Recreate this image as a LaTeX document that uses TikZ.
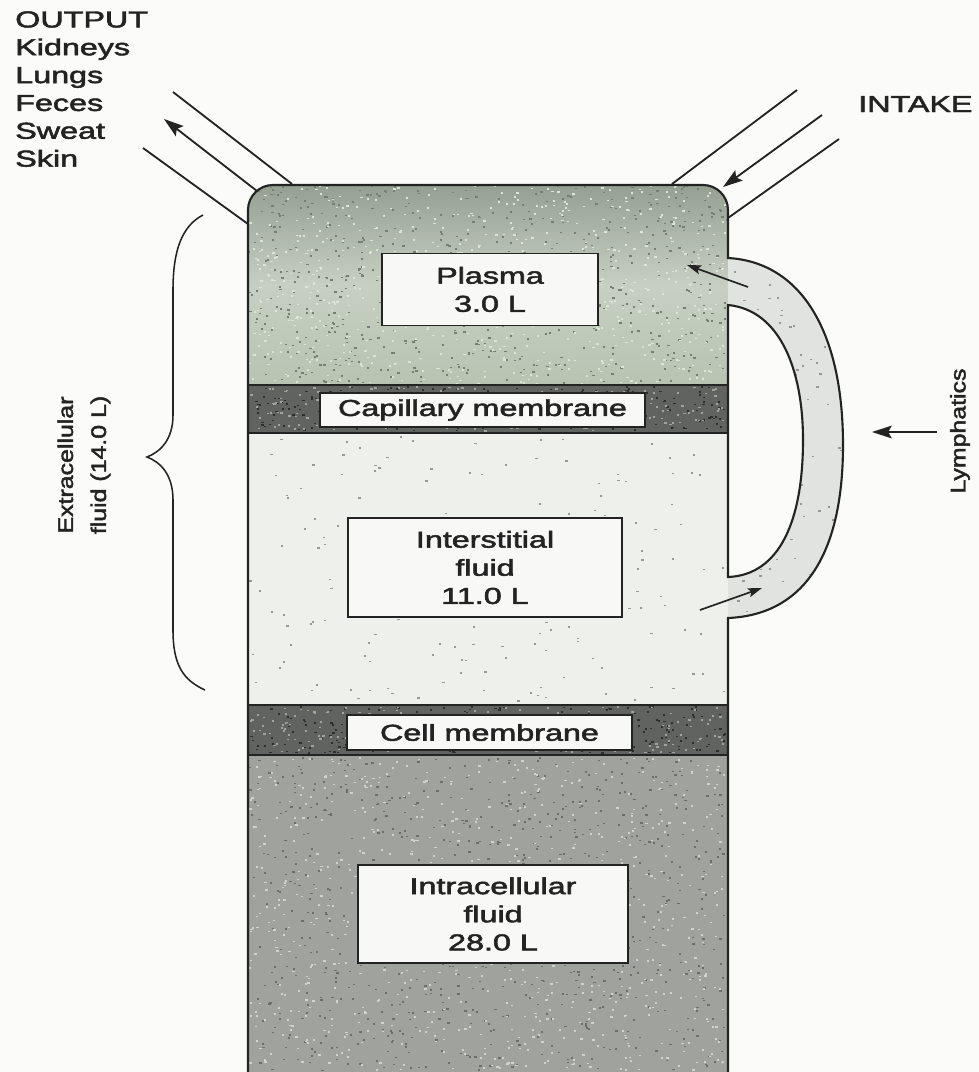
\documentclass[tikz,border=0pt]{standalone}
\usepackage{fontspec}
\setmainfont{Liberation Sans}[FakeBold=2]
\usepackage{graphicx}
\usetikzlibrary{arrows.meta}
\definecolor{bgc}{RGB}{251,251,249}
\definecolor{plasmac}{RGB}{184,195,178}
\definecolor{plasmatop}{RGB}{150,160,146}
\definecolor{plasmadk}{RGB}{118,128,114}
\definecolor{plasmalt}{RGB}{220,228,214}
\definecolor{memc}{RGB}{96,99,95}
\definecolor{memdk}{RGB}{45,47,45}
\definecolor{memlt}{RGB}{160,163,158}
\definecolor{interc}{RGB}{238,240,236}
\definecolor{interdk}{RGB}{150,152,150}
\definecolor{intrac}{RGB}{160,162,157}
\definecolor{intradk}{RGB}{108,110,106}
\definecolor{intralt}{RGB}{208,210,205}
\definecolor{ductc}{RGB}{224,227,223}
\definecolor{boxc}{RGB}{248,249,247}
\definecolor{inkc}{RGB}{35,35,35}
\newcommand{\hw}[1]{\scalebox{1.40}[1]{#1}}
\newcommand{\vw}[1]{\scalebox{1.18}[1]{#1}}
% speckle: xmin, xmax, ymin, ymax, count, colour
\newcommand{\speckle}[6]{%
  \foreach \k in {1,...,#5}{%
    \pgfmathsetmacro{\rx}{#1+rnd*(#2-#1)}%
    \pgfmathsetmacro{\ry}{#3+rnd*(#4-#3)}%
    \fill[#6] (\rx,\ry) rectangle ++(2.2,1.6);}}
\begin{document}
\begin{tikzpicture}[x=0.025cm,y=-0.025cm,
  edge/.style={draw=inkc,line width=1.5pt},
  lblbox/.style={draw=inkc,line width=1.1pt,fill=boxc,inner sep=0pt,align=center,
     text=inkc,font=\fontsize{16.4}{20}\selectfont},
  plaintext/.style={inner sep=0pt,text=inkc,font=\fontsize{16.4}{19.8}\selectfont},
  rottext/.style={inner sep=0pt,text=inkc,align=center,rotate=90,font=\fontsize{15}{23.5}\selectfont},
  flowline/.style={draw=inkc,line width=1.3pt},
  bigtip/.style={draw=inkc,line width=1.3pt,-{Stealth[length=14pt,width=9pt,inset=2.5pt]}},
  smalltip/.style={draw=inkc,line width=1.2pt,-{Stealth[length=10pt,width=6.5pt,inset=2pt]}}
]
\useasboundingbox (0,0) rectangle (979,1072);
\fill[bgc] (0,0) rectangle (979,1072);
\pgfmathsetseed{4242}

% ---- compartments ----
\shade[top color=plasmatop,bottom color=plasmac,middle color=plasmac!80!white]
  (248,385) -- (248,210) arc[start angle=180,end angle=270,radius=25]
  -- (703,185) arc[start angle=270,end angle=360,radius=25] -- (728,385) -- cycle;
\fill[memc] (248,385) rectangle (728,433);
\fill[interc] (248,433) rectangle (728,705);
\fill[memc] (248,705) rectangle (728,755);
\fill[intrac] (248,755) rectangle (728,1072);

% ---- textures ----
\begin{scope}
\clip (248,385) -- (248,210) arc[start angle=180,end angle=270,radius=25]
  -- (703,185) arc[start angle=270,end angle=360,radius=25] -- (728,385) -- cycle;
\speckle{248}{726}{185}{383}{650}{plasmadk}
\speckle{248}{726}{185}{383}{650}{plasmalt}
\end{scope}
\speckle{249}{724}{386}{430}{260}{memdk}
\speckle{249}{724}{386}{430}{200}{memlt}
\speckle{249}{724}{706}{752}{260}{memdk}
\speckle{249}{724}{706}{752}{200}{memlt}
\speckle{249}{724}{436}{702}{170}{interdk}
\speckle{249}{724}{757}{1070}{800}{intradk}
\speckle{249}{724}{757}{1070}{800}{intralt}
\draw[inkc,line width=1.3pt] (248,385) -- (728,385) (248,433) -- (728,433)
   (248,705) -- (728,705) (248,755) -- (728,755);

% ---- lymph duct ----
\fill[ductc] (728,258) .. controls (800,262) and (843,330) .. (843,445)
   .. controls (843,560) and (800,615) .. (728,618) -- cycle;
\begin{scope}
\clip (728,258) .. controls (800,262) and (843,330) .. (843,445)
   .. controls (843,560) and (800,615) .. (728,618) -- cycle;
\speckle{728}{843}{258}{618}{110}{interdk}
\end{scope}
\filldraw[fill=bgc,edge] (728,305) .. controls (780,310) and (803,370) .. (803,440)
   .. controls (803,520) and (780,575) .. (728,577) -- cycle;

% ---- container outline ----
\draw[edge] (248,1072) -- (248,210) arc[start angle=180,end angle=270,radius=25]
  -- (703,185) arc[start angle=270,end angle=360,radius=25] -- (728,258)
  .. controls (800,262) and (843,330) .. (843,445)
  .. controls (843,560) and (800,615) .. (728,618) -- (728,1072);

% ---- labels in boxes ----
\node[lblbox,minimum width=5.4cm,minimum height=1.8cm] (plasma) at (490,289.5)
  {\hw{Plasma}\\\hw{3.0 L}};
\node[lblbox,minimum width=8.125cm,minimum height=0.85cm] (capm) at (482.5,410)
  {\hw{Capillary membrane}};
\node[lblbox,minimum width=6.85cm,minimum height=2.475cm] (inter) at (485,567.5)
  {\hw{Interstitial}\\\hw{fluid}\\\hw{11.0 L}};
\node[lblbox,minimum width=7.125cm,minimum height=0.875cm] (cellm) at (489.5,732.5)
  {\hw{Cell membrane}};
\node[lblbox,minimum width=6.75cm,minimum height=2.45cm] (intra) at (493,914)
  {\hw{Intracellular}\\\hw{fluid}\\\hw{28.0 L}};

% ---- output ----
\node[plaintext,anchor=north west,align=left] (outtxt) at (15,11)
  {\hw{OUTPUT}\\\hw{Kidneys}\\\hw{Lungs}\\\hw{Feces}\\\hw{Sweat}\\\hw{Skin}};
\coordinate (o1a) at (173,92);  \coordinate (o1b) at (292,184);
\coordinate (o2a) at (257,191); \coordinate (o2b) at (164,119);
\coordinate (o3a) at (143,148); \coordinate (o3b) at (248,224);
\draw[flowline] (o1a) -- (o1b);
\draw[bigtip] (o2a) -- (o2b);
\draw[flowline] (o3a) -- (o3b);

% ---- intake ----
\node[plaintext,anchor=base west] (intake) at (858,112) {\hw{INTAKE}};
\coordinate (i1a) at (797,90);  \coordinate (i1b) at (672,184);
\coordinate (i2a) at (822,115); \coordinate (i2b) at (723,187);
\coordinate (i3a) at (839,139); \coordinate (i3b) at (728,218);
\draw[flowline] (i1a) -- (i1b);
\draw[bigtip] (i2a) -- (i2b);
\draw[flowline] (i3a) -- (i3b);

% ---- lymph arrows ----
\coordinate (l1a) at (748,287); \coordinate (l1b) at (687,265);
\coordinate (l2a) at (700,610); \coordinate (l2b) at (762,588);
\draw[smalltip] (l1a) -- (l1b);
\draw[smalltip] (l2a) -- (l2b);
\node[rottext] (lymph) at (960,431) {\vw{Lymphatics}};
\coordinate (la) at (937,432); \coordinate (lb) at (872,432);
\draw[bigtip] (la) -- (lb);

% ---- extracellular brace ----
\node[rottext] (ecf) at (84,465) {\vw{Extracellular}\\\vw{fluid (14.0 L)}};
\draw[inkc,line width=1.1pt] (203,215) .. controls (182,226) and (173,250) .. (173,290)
  -- (173,415) .. controls (173,440) and (160,452) .. (147,457)
  .. controls (160,462) and (173,474) .. (173,500) -- (173,630)
  .. controls (173,665) and (183,680) .. (205,690);
\end{tikzpicture}
\end{document}
